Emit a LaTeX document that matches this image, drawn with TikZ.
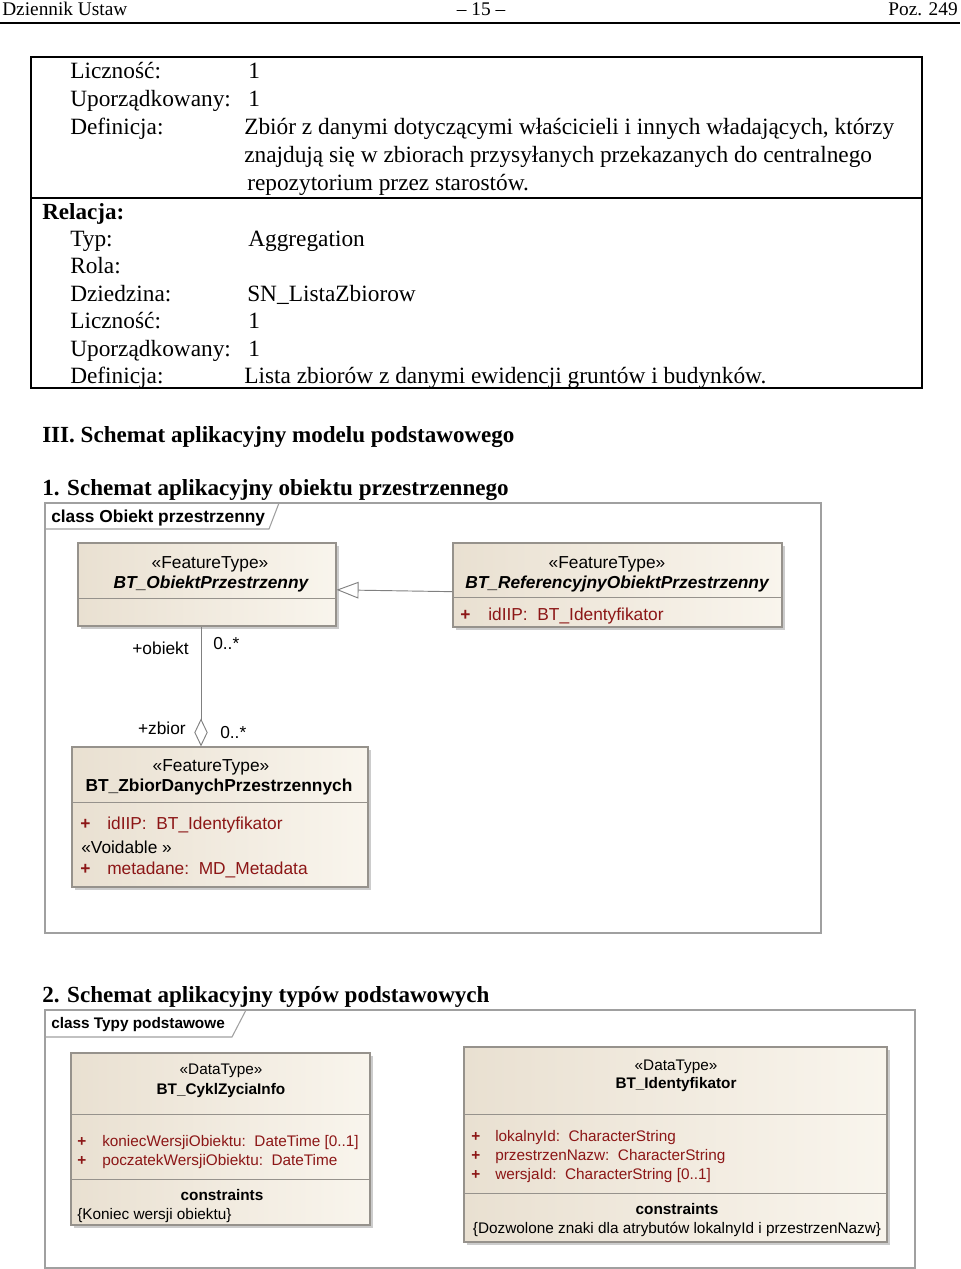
\documentclass[tikz,border=0pt]{standalone}
\usepackage{fontspec}
\setmainfont{Liberation Serif}
\setsansfont{Liberation Sans}
\usetikzlibrary{arrows.meta}
\usetikzlibrary{shadows}
\usetikzlibrary{fit}
\definecolor{clsleft}{RGB}{233,224,209}
\definecolor{clsright}{RGB}{249,245,237}
\definecolor{clsline}{RGB}{150,146,140}
\definecolor{attrred}{RGB}{140,22,22}
\definecolor{frameline}{RGB}{160,160,160}

\begin{document}
\begin{tikzpicture}[x=0.75pt,y=-0.75pt,
                    txt/.style={anchor=base west,
                      inner sep=0pt,
                      font=\fontsize{17.5}{21}\selectfont},
                    hdr/.style={txt,
                      font=\fontsize{17.3}{21}\selectfont\bfseries},
                    pg/.style={inner sep=0pt,
                      font=\fontsize{14.5}{17}\selectfont},
                    cls/.style={draw=clsline,
                      line width=0.8pt,
                      inner sep=0pt,
                      left color=clsleft,
                      right color=clsright,
                      drop shadow={shadow xshift=2.5pt,shadow yshift=-2.5pt,fill=black!40}},
                    sep/.style={draw=clsline, line width=0.7pt},
                    frm/.style={draw=frameline, line width=0.8pt},
                    ua/.style={inner sep=0pt, anchor=base,
                      font=\sffamily\fontsize{13}{15}\selectfont},
                    ub/.style={inner sep=0pt, anchor=base,
                      font=\sffamily\fontsize{11.5}{13.5}\selectfont},
                    vis/.style={anchor=base west, text=attrred,
                      font=\sffamily\bfseries\fontsize{#1}{15}\selectfont},
                    gen/.style={draw=gray, line width=0.7pt,
                      -{Triangle[open,length=16.5pt,width=12.5pt]}},
                    agg/.style={draw=gray, line width=0.7pt,
                      {Diamond[open,length=21pt,width=10pt]}-}]
\useasboundingbox (0,0) rectangle (960,1269);
% page head
\node (hl) [pg, anchor=base west] at (2,16) {Dziennik Ustaw};
\node (hc) [pg, anchor=base] at (481,16) {– 15 –};
\node (hr) [pg, anchor=base east] at (958,16) {Poz. 249};
\draw[line width=1.6pt] (0,23) -- (960,23);
% table
\draw[line width=1.1pt] (31,57) rectangle (922,388);
\draw[line width=1.1pt] (31,198) -- (922,198);
\node (l1) [txt] at (70,79) {Liczność:};
\node (v1) [txt] at (248,79) {1};
\node (l2) [txt] at (70,107) {Uporządkowany:};
\node (v2) [txt] at (248,107) {1};
\node (l3) [txt] at (70,135) {Definicja:};
\node (v3) [txt] at (244,135) {Zbiór z danymi dotyczącymi właścicieli i innych władających, którzy};
\node (v3b) [txt] at (244,163) {znajdują się w zbiorach przysyłanych przekazanych do centralnego};
\node (v3c) [txt] at (247,191) {repozytorium przez starostów.};
\node (rel) [hdr] at (42,220) {Relacja:};
\node (l4) [txt] at (70,247) {Typ:};
\node (v4) [txt] at (248,247) {Aggregation};
\node (l5) [txt] at (70,274) {Rola:};
\node (l6) [txt] at (70,301) {Dziedzina:};
\node (v6) [txt] at (247,301) {SN\_ListaZbiorow};
\node (l7) [txt] at (70,328) {Liczność:};
\node (v7) [txt] at (248,328) {1};
\node (l8) [txt] at (70,356) {Uporządkowany:};
\node (v8) [txt] at (248,356) {1};
\node (l9) [txt] at (70,383) {Definicja:};
\node (v9) [txt] at (244,383) {Lista zbiorów z danymi ewidencji gruntów i budynków.};
% headings
\node (s3) [hdr] at (42,442) {III. Schemat aplikacyjny modelu podstawowego};
\node (s31) [hdr] at (42,495) {1. Schemat aplikacyjny obiektu przestrzennego};
% diagram 1
\draw[frm] (45,503) rectangle (821,933);
\draw[frm] (45,529) -- (269,529) -- (279,503);
\node (tab1) [ua, anchor=base west, font=\sffamily\bfseries\fontsize{13}{15}\selectfont] at (51,522) {class Obiekt przestrzenny};
\node (obiekt) [cls, fit={(78,543) (336,626)}] {};
\draw[sep] (78,598) -- (336,598);
\node (obst) [ua] at (210,568) {«FeatureType»};
\node (obnm) [ua, font=\sffamily\bfseries\itshape\fontsize{13}{15}\selectfont] at (211,588) {BT\_ObiektPrzestrzenny};
\node (ref) [cls, fit={(453,543) (782,627)}] {};
\draw[sep] (453,597) -- (782,597);
\node (rfst) [ua] at (607,568) {«FeatureType»};
\node (rfnm) [ua, font=\sffamily\bfseries\itshape\fontsize{13}{15}\selectfont] at (617,588) {BT\_ReferencyjnyObiektPrzestrzenny};
\node (rfp) [ua, vis=13] at (460,620) {+};
\node (rfa) [ua, anchor=base west, text=attrred] at (488,620) {idIIP:\ \ BT\_Identyfikator};
\node (zbior) [cls, fit={(72,747) (368,887)}] {};
\draw[sep] (72,802) -- (368,802);
\node (zbst) [ua] at (211,771) {«FeatureType»};
\node (zbnm) [ua, font=\sffamily\bfseries\fontsize{13}{15}\selectfont] at (219,791) {BT\_ZbiorDanychPrzestrzennych};
\node (zbp1) [ua, vis=13] at (80,829) {+};
\node (zba1) [ua, anchor=base west, text=attrred] at (107,829) {idIIP:\ \ BT\_Identyfikator};
\node (zbvo) [ua, anchor=base west] at (81,853) {«Voidable »};
\node (zbp2) [ua, vis=13] at (80,874) {+};
\node (zba2) [ua, anchor=base west, text=attrred] at (107,874) {metadane:\ \ MD\_Metadata};
\draw[gen] ([yshift=-5pt]ref.west) -- ([yshift=-4pt]obiekt.east);
\coordinate (aggx) at (201,0);
\draw[agg] (zbior.north -| aggx) -- (obiekt.south -| aggx);
\node (rob) [ua, anchor=base east] at (189,654) {+obiekt};
\node (mob) [ua, anchor=base west] at (213,649) {0..*};
\node (rzb) [ua, anchor=base east] at (186,734) {+zbior};
\node (mzb) [ua, anchor=base west] at (220,738) {0..*};
% diagram 2
\node (s32) [hdr] at (42,1002) {2. Schemat aplikacyjny typów podstawowych};
\draw[frm] (45,1010) rectangle (915,1268);
\draw[frm] (45,1037) -- (232,1037) -- (246,1010);
\node (tab2) [ub, anchor=base west, font=\sffamily\bfseries\fontsize{11.5}{13.5}\selectfont] at (51,1028) {class Typy podstawowe};
\node (cykl) [cls, fit={(71,1053) (370,1225)}] {};
\draw[sep] (71,1114) -- (370,1114);
\draw[sep] (71,1179) -- (370,1179);
\node (cyst) [ub] at (221,1074) {«DataType»};
\node (cynm) [ub, font=\sffamily\bfseries\fontsize{11.5}{13.5}\selectfont] at (221,1094) {BT\_CyklZyciaInfo};
\node (cyp1) [ub, vis=11.5] at (77,1146) {+};
\node (cya1) [ub, anchor=base west, text=attrred] at (102,1146) {koniecWersjiObiektu:\ \ DateTime [0..1]};
\node (cyp2) [ub, vis=11.5] at (77,1165) {+};
\node (cya2) [ub, anchor=base west, text=attrred] at (102,1165) {poczatekWersjiObiektu:\ \ DateTime};
\node (cyco) [ub, font=\sffamily\bfseries\fontsize{11.5}{13.5}\selectfont] at (222,1200) {constraints};
\node (cyc1) [ub, anchor=base west] at (77,1219) {\{Koniec wersji obiektu\}};
\node (ident) [cls, fit={(464,1047) (887,1242)}] {};
\draw[sep] (464,1114) -- (887,1114);
\draw[sep] (464,1193) -- (887,1193);
\node (idst) [ub] at (676,1070) {«DataType»};
\node (idnm) [ub, font=\sffamily\bfseries\fontsize{11.5}{13.5}\selectfont] at (676,1088) {BT\_Identyfikator};
\node (idp1) [ub, vis=11.5] at (471,1141) {+};
\node (ida1) [ub, anchor=base west, text=attrred] at (495,1141) {lokalnyId:\ \ CharacterString};
\node (idp2) [ub, vis=11.5] at (471,1160) {+};
\node (ida2) [ub, anchor=base west, text=attrred] at (495,1160) {przestrzenNazw:\ \ CharacterString};
\node (idp3) [ub, vis=11.5] at (471,1179) {+};
\node (ida3) [ub, anchor=base west, text=attrred] at (495,1179) {wersjaId:\ \ CharacterString [0..1]};
\node (idco) [ub, font=\sffamily\bfseries\fontsize{11.5}{13.5}\selectfont] at (677,1214) {constraints};
\node (idc1) [ub] at (677,1233) {\{Dozwolone znaki dla atrybutów lokalnyId i przestrzenNazw\}};
\end{tikzpicture}
\end{document}
